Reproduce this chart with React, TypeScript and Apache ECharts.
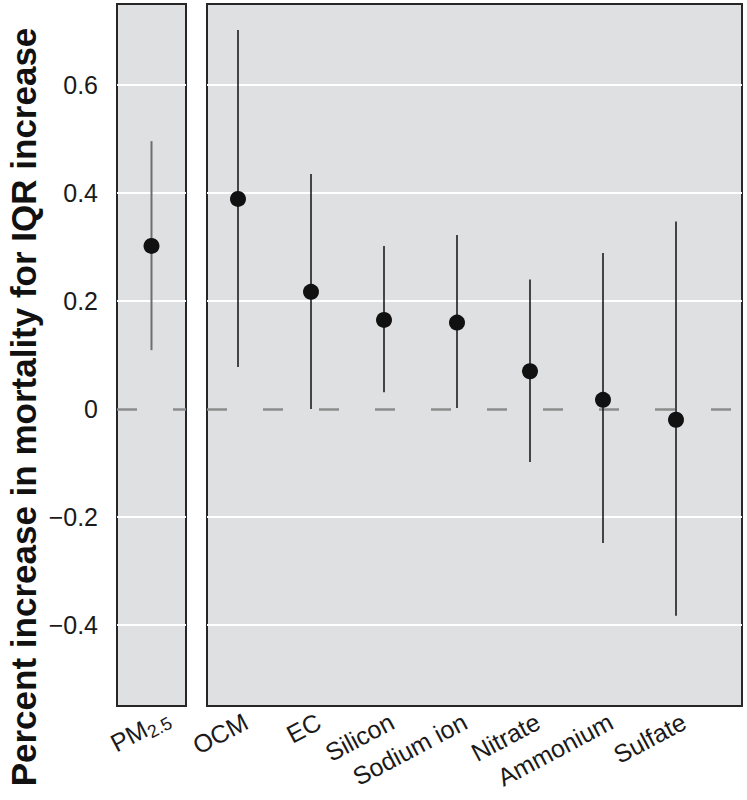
import React, { useEffect, useRef } from "react";
import * as echarts from "echarts";

const totalCategories = ["PM2.5"];
const totalEstimate = [0.302];
const totalLower = [0.109];
const totalUpper = [0.496];

const componentCategories = ["OCM", "EC", "Silicon", "Sodium ion", "Nitrate", "Ammonium", "Sulfate"];
const componentEstimate = [0.389, 0.217, 0.165, 0.16, 0.07, 0.017, -0.02];
const componentLower = [0.078, 0.0, 0.031, 0.002, -0.098, -0.248, -0.383];
const componentUpper = [0.702, 0.435, 0.302, 0.322, 0.24, 0.289, 0.347];

const yMin = -0.55;
const yMax = 0.75;
const yTitle = "Percent increase in mortality for IQR increase";

const FONT = "'Liberation Sans Narrow', 'Liberation Sans', Arial, sans-serif";
const PANEL_BG = "#dfe0e2";
const BORDER = "#262626";

function fmtY(v: number) {
  if (Math.abs(v) < 1e-9) return "0";
  return (v < 0 ? "\u2212" : "") + Math.abs(v).toFixed(1);
}

function makeRender(stroke: string, width: number) {
  return (params: any, api: any) => {
    const x = api.value(0);
    const est = api.value(1);
    const lo = api.value(2);
    const hi = api.value(3);
    const p1 = api.coord([x, lo]);
    const p2 = api.coord([x, hi]);
    const c = api.coord([x, est]);
    return {
      type: "group",
      children: [
        {
          type: "line",
          shape: { x1: p1[0], y1: p1[1], x2: p2[0], y2: p2[1] },
          style: { stroke, lineWidth: width },
        },
        {
          type: "circle",
          shape: { cx: c[0], cy: c[1], r: 8 },
          style: { fill: "#111111" },
        },
      ],
    };
  };
}

const zeroMarkLine = {
  silent: true,
  symbol: "none",
  label: { show: false },
  lineStyle: { type: [20, 36], color: "#8c8c8c", width: 2.5 },
  data: [{ yAxis: 0 }],
};

const splitColors = ["#ffffff", "#ffffff", "rgba(0,0,0,0)", "#ffffff", "#ffffff", "#ffffff"];

function yAxisBase(gridIndex: number, showLabels: boolean) {
  return {
    type: "value",
    gridIndex,
    min: yMin,
    max: yMax,
    splitNumber: 6,
    axisLine: { show: false },
    axisTick: { show: false },
    axisLabel: {
      show: showLabels,
      formatter: fmtY,
      fontFamily: FONT,
      fontSize: 25,
      color: "#1a1a1a",
      margin: 19,
      showMinLabel: false,
      showMaxLabel: false,
    },
    splitLine: {
      show: true,
      showMinLine: false,
      showMaxLine: false,
      lineStyle: { color: splitColors, width: 2 },
    },
  };
}

export default function App() {
  const ref = useRef<HTMLDivElement>(null);

  useEffect(() => {
    if (!ref.current) return;
    const chart = echarts.init(ref.current, undefined, { renderer: "svg" });

    const xLabel = {
      rotate: 28,
      fontFamily: FONT,
      fontSize: 25,
      color: "#1a1a1a",
      margin: 18,
      interval: 0,
      padding: [0, -9, 0, 0],
    };

    const option: any = {
      animation: false,
      backgroundColor: "#ffffff",
      grid: [
        { left: 117, top: 4, width: 69, height: 702, show: true, backgroundColor: PANEL_BG, borderColor: BORDER, borderWidth: 2 },
        { left: 207, top: 4, width: 535, height: 702, show: true, backgroundColor: PANEL_BG, borderColor: BORDER, borderWidth: 2 },
        { left: 201.5, top: 4, width: 511, height: 702, show: false },
      ],
      xAxis: [
        {
          type: "category",
          gridIndex: 0,
          data: totalCategories,
          axisLine: { show: false },
          axisTick: { show: false },
          axisLabel: {
            ...xLabel,
            padding: [0, -18, 0, 0],
            formatter: () => "{a|PM}{b|2.5}",
            rich: {
              a: { fontFamily: FONT, fontSize: 25, color: "#1a1a1a" },
              b: { fontFamily: FONT, fontSize: 18, color: "#1a1a1a", verticalAlign: "bottom", padding: [14, 0, 0, 0] },
            },
          },
        },
        { type: "value", gridIndex: 1, min: 0, max: 1, show: false },
        {
          type: "category",
          gridIndex: 2,
          data: componentCategories,
          axisLine: { show: false },
          axisTick: { show: false },
          axisLabel: xLabel,
        },
      ],
      yAxis: [
        yAxisBase(0, true),
        yAxisBase(1, false),
        { type: "value", gridIndex: 2, min: yMin, max: yMax, show: false },
      ],
      graphic: [
        {
          type: "text",
          x: 23,
          y: 407,
          rotation: Math.PI / 2,
          style: {
            text: yTitle,
            font: `bold 35px ${FONT}`,
            fill: "#111111",
            textAlign: "center",
            textVerticalAlign: "middle",
          },
        },
      ],
      series: [
        {
          type: "custom",
          xAxisIndex: 0,
          yAxisIndex: 0,
          renderItem: makeRender("#6e6e6e", 2),
          data: totalCategories.map((_, i) => [i, totalEstimate[i], totalLower[i], totalUpper[i]]),
          markLine: zeroMarkLine,
          z: 5,
        },
        {
          type: "line",
          xAxisIndex: 1,
          yAxisIndex: 1,
          data: [],
          markLine: zeroMarkLine,
          z: 3,
        },
        {
          type: "custom",
          xAxisIndex: 2,
          yAxisIndex: 2,
          renderItem: makeRender("#111111", 1.5),
          data: componentCategories.map((_, i) => [i, componentEstimate[i], componentLower[i], componentUpper[i]]),
          z: 5,
        },
      ],
    };

    chart.setOption(option);
    return () => chart.dispose();
  }, []);

  return (
    <div
      ref={ref}
      style={{ position: "fixed", left: 0, top: 0, width: 747, height: 800 }}
    />
  );
}
